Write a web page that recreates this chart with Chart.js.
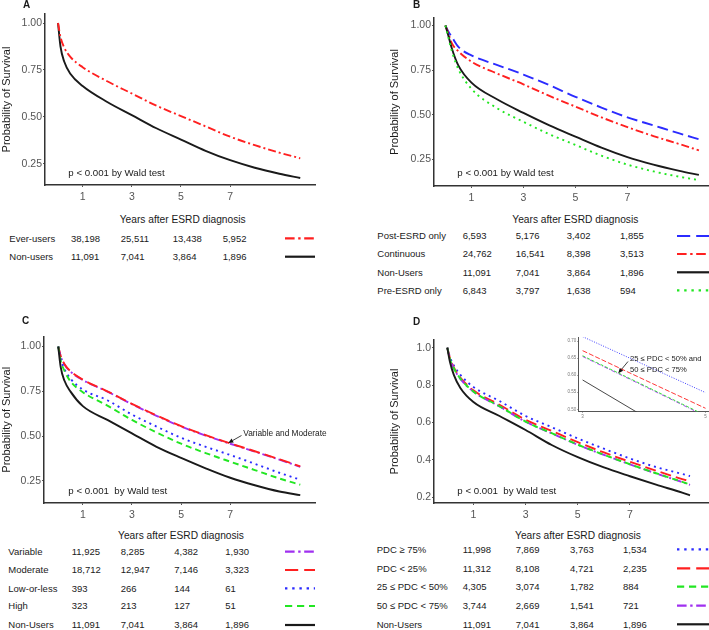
<!DOCTYPE html>
<html>
<head>
<meta charset="utf-8">
<script src="https://cdn.jsdelivr.net/npm/chart.js@4.4.1/dist/chart.umd.min.js"></script>
<style>
body { margin: 0; background: #fff; }
#page { position: relative; width: 709px; height: 630px; overflow: hidden;
        font-family: "Liberation Sans", Arial, sans-serif; color: #1a1a1a; }
#page canvas { position: absolute; }
.t { position: absolute; white-space: pre; }
#overlay { position: absolute; left: 0; top: 0; }
</style>
</head>
<body>
<div id="page"></div>
<script>
// ---- data ----
const yTicks4 = [0.25, 0.5, 0.75, 1.0];
const yTicksD = [0.2, 0.4, 0.6, 0.8, 1.0];
const xTicks = [1, 3, 5, 7];

// Panel A
const yearsA = [0, 0.1, 0.25, 0.5, 1, 2, 3, 4, 5, 6, 7, 8, 9, 9.85];
const everUsersA = [1, 0.925, 0.87, 0.82, 0.765, 0.69, 0.625, 0.56, 0.505, 0.45, 0.395, 0.35, 0.31, 0.28];
const nonUsersA = [1, 0.875, 0.795, 0.73, 0.665, 0.58, 0.51, 0.44, 0.38, 0.32, 0.27, 0.23, 0.198, 0.175];

// Panel B
const yearsB = [0, 0.1, 0.25, 0.5, 1, 2, 3, 4, 5, 6, 7, 8, 9, 9.75];
const postEsrdB = [1, 0.97, 0.935, 0.88, 0.832, 0.778, 0.725, 0.665, 0.60, 0.54, 0.485, 0.44, 0.395, 0.362];
const continuousB = [1, 0.96, 0.90, 0.855, 0.797, 0.73, 0.67, 0.605, 0.545, 0.485, 0.43, 0.38, 0.335, 0.30];
const nonUsersB = [1, 0.95, 0.87, 0.775, 0.68, 0.585, 0.51, 0.44, 0.377, 0.315, 0.262, 0.22, 0.185, 0.162];
const preEsrdB = [1, 0.94, 0.855, 0.755, 0.645, 0.535, 0.46, 0.39, 0.33, 0.27, 0.22, 0.182, 0.152, 0.133];

// Panel C
const yearsC = [0, 0.1, 0.25, 0.5, 1, 2, 3, 4, 5, 6, 7, 8, 9, 9.85];
const variableC = [1, 0.945, 0.9, 0.86, 0.813, 0.748, 0.678, 0.613, 0.553, 0.503, 0.457, 0.413, 0.368, 0.328];
const moderateC = [1, 0.947, 0.902, 0.862, 0.815, 0.75, 0.68, 0.615, 0.555, 0.505, 0.459, 0.415, 0.37, 0.331];
const lowOrLessC = [1, 0.93, 0.875, 0.82, 0.76, 0.70, 0.62, 0.553, 0.49, 0.44, 0.394, 0.345, 0.295, 0.256];
const highC = [1, 0.92, 0.865, 0.805, 0.745, 0.67, 0.59, 0.52, 0.457, 0.405, 0.357, 0.31, 0.263, 0.228];
const nonUsersC = [1, 0.885, 0.81, 0.748, 0.667, 0.59, 0.515, 0.44, 0.378, 0.32, 0.267, 0.225, 0.19, 0.17];

// Panel D
const yearsD = [0, 0.1, 0.25, 0.5, 1, 2, 3, 4, 5, 6, 7, 8, 9, 9.3];
const pdc75D = [1, 0.95, 0.905, 0.855, 0.79, 0.715, 0.635, 0.575, 0.515, 0.46, 0.408, 0.362, 0.325, 0.314];
const pdc25D = [1, 0.945, 0.895, 0.84, 0.772, 0.695, 0.615, 0.555, 0.495, 0.44, 0.39, 0.343, 0.298, 0.286];
const pdc2550D = [1, 0.94, 0.89, 0.835, 0.766, 0.687, 0.605, 0.543, 0.482, 0.428, 0.377, 0.329, 0.283, 0.269];
const pdc5075D = [1, 0.94, 0.888, 0.833, 0.765, 0.686, 0.604, 0.542, 0.481, 0.427, 0.376, 0.328, 0.282, 0.267];
const nonUsersD = [1, 0.925, 0.855, 0.785, 0.71, 0.635, 0.56, 0.48, 0.415, 0.36, 0.313, 0.268, 0.225, 0.211];

// Inset of panel D (years 3 to 5)
const insetYears = [3, 4, 5];
const insetTicksY = [0.50, 0.55, 0.60, 0.65, 0.70];
const insetTicksX = [3, 5];
const insetPdc75 = [0.713, 0.631, 0.549];
const insetPdc25 = [0.672, 0.587, 0.503];
const insetPdc2550 = [0.657, 0.570, 0.482];
const insetPdc5075 = [0.655, 0.568, 0.480];
const insetNonUsers = [0.586, 0.479, null];

// Numbers at risk
const groupsA = ['Ever-users', 'Non-users'];
const atRiskA = [[38198, 25511, 13438, 5952], [11091, 7041, 3864, 1896]];
const groupsB = ['Post-ESRD only', 'Continuous', 'Non-Users', 'Pre-ESRD only'];
const atRiskB = [[6593, 5176, 3402, 1855], [24762, 16541, 8398, 3513], [11091, 7041, 3864, 1896], [6843, 3797, 1638, 594]];
const groupsC = ['Variable', 'Moderate', 'Low-or-less', 'High', 'Non-Users'];
const atRiskC = [[11925, 8285, 4382, 1930], [18712, 12947, 7146, 3323], [393, 266, 144, 61], [323, 213, 127, 51], [11091, 7041, 3864, 1896]];
const groupsD = ['PDC \u2265 75%', 'PDC < 25%', '25 \u2264 PDC < 50%', '50 \u2264 PDC < 75%', 'Non-Users'];
const atRiskD = [[11998, 7869, 3763, 1534], [11312, 8108, 4721, 2235], [4305, 3074, 1782, 884], [3744, 2669, 1541, 721], [11091, 7041, 3864, 1896]];

// ---- styles ----
const FONT = '"Liberation Sans", Arial, sans-serif';
const RED = '#ff2020', BLUE = '#2b2bff', GREEN = '#22e622', PURPLE = '#a030f0', BLACK = '#1a1a1a';
const DASHDOT = [8, 3, 2, 3];
const LONGDASH = [11, 5];
const DOTTED = [2, 4];
const DASHED = [6, 4];
const SOLID = [];

const page = document.getElementById('page');
const svgNS = 'http://www.w3.org/2000/svg';
const overlay = document.createElementNS(svgNS, 'svg');
overlay.setAttribute('id', 'overlay');
overlay.setAttribute('width', 709);
overlay.setAttribute('height', 630);

function addCanvas(left, top, w, h) {
    const c = document.createElement('canvas');
    c.width = w; c.height = h;
    c.style.left = left + 'px'; c.style.top = top + 'px';
    c.style.width = w + 'px'; c.style.height = h + 'px';
    page.appendChild(c);
    return c;
}

function addText(txt, x, yc, size, opts = {}) {
    const d = document.createElement('div');
    d.className = 't';
    d.textContent = txt;
    d.style.fontSize = size + 'px';
    d.style.lineHeight = (size * 1.2) + 'px';
    d.style.top = (yc - size * 0.6) + 'px';
    d.style.left = x + 'px';
    if (opts.center) d.style.transform = 'translateX(-50%)';
    if (opts.bold) d.style.fontWeight = 'bold';
    page.appendChild(d);
}

function toPoints(xs, ys) {
    return xs.map((x, i) => ({ x: x, y: ys[i] })).filter(p => p.y !== null);
}

function survivalChart(box, years, series) {
    const canvas = addCanvas(box.left, box.top, box.w, box.h);
    return new Chart(canvas.getContext('2d'), {
        type: 'line',
        data: {
            datasets: series.map(s => ({
                data: toPoints(years, s.values),
                borderColor: s.color,
                borderDash: s.dash,
                borderWidth: box.lineWidth || 1.9,
                pointRadius: 0,
                fill: false,
                cubicInterpolationMode: 'monotone'
            }))
        },
        options: {
            responsive: false,
            animation: false,
            layout: { padding: { top: box.padTop, right: box.padRight, left: 0, bottom: 0 } },
            plugins: { legend: { display: false }, tooltip: { enabled: false } },
            scales: {
                x: {
                    type: 'linear',
                    min: box.xMin, max: box.xMax,
                    afterFit: s => { s.height = box.xH; },
                    afterBuildTicks: s => { s.ticks = box.xTicks.map(v => ({ value: v })); },
                    grid: { display: true, drawOnChartArea: false, tickLength: box.tickLen, color: box.tickColor },
                    border: { display: true, color: box.axisColor, width: box.axisWidth },
                    ticks: { color: box.tickFontColor, font: { family: FONT, size: box.tickFont }, padding: box.xPad, maxRotation: 0,
                             callback: v => String(v) }
                },
                y: {
                    type: 'linear',
                    min: box.yMin, max: box.yMax,
                    afterFit: s => { s.width = box.yW; },
                    afterBuildTicks: s => { s.ticks = box.yTicks.map(v => ({ value: v })); },
                    grid: { display: true, drawOnChartArea: false, tickLength: box.tickLen, color: box.tickColor },
                    border: { display: true, color: box.axisColor, width: box.axisWidth },
                    ticks: { color: box.tickFontColor, font: { family: FONT, size: box.tickFont }, padding: 1,
                             callback: v => v.toFixed(box.yDigits) },
                    title: { display: !!box.yTitle, text: box.yTitle, color: '#1a1a1a',
                             font: { family: FONT, size: 11 }, padding: 0 }
                }
            }
        }
    });
}

function legendLine(x0, x1, y, color, dash) {
    const l = document.createElementNS(svgNS, 'line');
    l.setAttribute('x1', x0); l.setAttribute('x2', x1);
    l.setAttribute('y1', y); l.setAttribute('y2', y);
    l.setAttribute('stroke', color);
    l.setAttribute('stroke-width', 2.2);
    if (dash.length) l.setAttribute('stroke-dasharray', dash.map(d => d * 1.2).join(','));
    overlay.appendChild(l);
}

function riskTable(t, groups, counts, styles) {
    addText('Years after ESRD diagnosis', t.titleX, t.titleY, 10.2, { center: true });
    groups.forEach((g, i) => {
        const y = t.rowY[i];
        addText(g, t.labelX, y, 9.5);
        counts[i].forEach((n, j) => addText(n.toLocaleString('en-US'), t.colX[j], y, 9.5));
        legendLine(t.lineX[0], t.lineX[1], y, styles[i].color, styles[i].dash);
    });
}

function arrow(x0, y0, x1, y1) {
    const l = document.createElementNS(svgNS, 'line');
    const dx = x1 - x0, dy = y1 - y0, len = Math.hypot(dx, dy);
    const ux = dx / len, uy = dy / len;
    const bx = x1 - ux * 5, by = y1 - uy * 5;
    l.setAttribute('x1', x0); l.setAttribute('y1', y0);
    l.setAttribute('x2', bx); l.setAttribute('y2', by);
    l.setAttribute('stroke', '#111'); l.setAttribute('stroke-width', 0.8);
    overlay.appendChild(l);
    const p = document.createElementNS(svgNS, 'polygon');
    p.setAttribute('points', [x1, y1, bx + uy * 2.2, by - ux * 2.2, bx - uy * 2.2, by + ux * 2.2].join(','));
    p.setAttribute('fill', '#111');
    overlay.appendChild(p);
}

const mainBox = {
    xTicks: xTicks, tickLen: 2, tickColor: '#555', axisColor: '#333', axisWidth: 1.5,
    tickFontColor: '#555', tickFont: 10.5, xPad: 4, xH: 20, yDigits: 2, yTitle: 'Probability of Survival'
};

// ---- Panel A ----
survivalChart(Object.assign({}, mainBox, {
    left: 0, top: 0, w: 330, h: 205, padTop: 14, padRight: 15, yW: 45,
    xMin: -0.53, xMax: 10.45, yMin: 0.138, yMax: 1.048, yTicks: yTicks4
}), yearsA, [
    { values: everUsersA, color: RED, dash: DASHDOT },
    { values: nonUsersA, color: BLACK, dash: SOLID }
]);
riskTable({ titleX: 182.7, titleY: 220, labelX: 9.3, colX: [71, 120.7, 172.7, 222.7], rowY: [238.3, 256.7], lineX: [285, 315] },
    groupsA, atRiskA, [{ color: RED, dash: DASHDOT }, { color: BLACK, dash: SOLID }]);

// ---- Panel B ----
survivalChart(Object.assign({}, mainBox, {
    left: 388, top: 0, w: 321, h: 206, padTop: 18, padRight: 1, yW: 46,
    xMin: -0.44, xMax: 10.1, yMin: 0.10, yMax: 1.042, yTicks: yTicks4
}), yearsB, [
    { values: preEsrdB, color: GREEN, dash: DOTTED },
    { values: nonUsersB, color: BLACK, dash: SOLID },
    { values: continuousB, color: RED, dash: DASHDOT },
    { values: postEsrdB, color: BLUE, dash: LONGDASH }
]);
riskTable({ titleX: 575.3, titleY: 220, labelX: 377.3, colX: [462.7, 515.7, 566.7, 620], rowY: [236, 254, 272.3, 290.3], lineX: [677, 709] },
    groupsB, atRiskB, [
        { color: BLUE, dash: LONGDASH }, { color: RED, dash: DASHDOT },
        { color: BLACK, dash: SOLID }, { color: GREEN, dash: DOTTED }]);

// ---- Panel C ----
survivalChart(Object.assign({}, mainBox, {
    left: 0, top: 316, w: 330, h: 207, padTop: 20.5, padRight: 15, yW: 44,
    xMin: -0.58, xMax: 10.45, yMin: 0.126, yMax: 1.056, yTicks: yTicks4
}), yearsC, [
    { values: nonUsersC, color: BLACK, dash: SOLID },
    { values: highC, color: GREEN, dash: DASHED },
    { values: lowOrLessC, color: BLUE, dash: DOTTED },
    { values: moderateC, color: RED, dash: LONGDASH },
    { values: variableC, color: PURPLE, dash: [9, 3, 2, 3] }
]);
riskTable({ titleX: 181, titleY: 536, labelX: 8.3, colX: [71.7, 120.7, 174.3, 225.3], rowY: [551.7, 570, 588.3, 606, 625], lineX: [285, 315] },
    groupsC, atRiskC, [
        { color: PURPLE, dash: DASHDOT }, { color: RED, dash: LONGDASH },
        { color: BLUE, dash: DOTTED }, { color: GREEN, dash: DASHED }, { color: BLACK, dash: SOLID }]);

// ---- Panel D ----
survivalChart(Object.assign({}, mainBox, {
    left: 388, top: 316, w: 321, h: 207, padTop: 24, padRight: 1, yW: 46,
    xMin: -0.51, xMax: 9.99, yMin: 0.17, yMax: 1.041, yTicks: yTicksD, yDigits: 1
}), yearsD, [
    { values: nonUsersD, color: BLACK, dash: SOLID },
    { values: pdc2550D, color: GREEN, dash: DASHED },
    { values: pdc5075D, color: PURPLE, dash: DASHDOT },
    { values: pdc25D, color: RED, dash: LONGDASH },
    { values: pdc75D, color: BLUE, dash: DOTTED }
]);
riskTable({ titleX: 578, titleY: 536, labelX: 376.7, colX: [462.7, 515.7, 570, 623], rowY: [549.3, 568.3, 586.7, 605.7, 624.3], lineX: [677, 709] },
    groupsD, atRiskD, [
        { color: BLUE, dash: DOTTED }, { color: RED, dash: LONGDASH },
        { color: GREEN, dash: DASHED }, { color: PURPLE, dash: DASHDOT }, { color: BLACK, dash: SOLID }]);

// ---- Inset of D ----
survivalChart({
    left: 560, top: 330, w: 149, h: 95, padTop: 7, padRight: 1, yW: 18.3, xH: 13.3,
    xMin: 2.93, xMax: 5.04, yMin: 0.493, yMax: 0.712, xTicks: insetTicksX, yTicks: insetTicksY,
    tickLen: 1, tickColor: '#888', axisColor: '#555', axisWidth: 1, tickFontColor: '#777', tickFont: 4.5,
    xPad: 1, yDigits: 2, yTitle: '', lineWidth: 0.9
}, insetYears, [
    { values: insetNonUsers, color: '#333', dash: SOLID },
    { values: insetPdc2550, color: GREEN, dash: [3, 2] },
    { values: insetPdc5075, color: PURPLE, dash: [4, 1.5, 1, 1.5] },
    { values: insetPdc25, color: RED, dash: [5, 2] },
    { values: insetPdc75, color: BLUE, dash: [1, 1.5] }
]);

// ---- panel letters, p-values and notes ----
addText('A', 23, 5, 10, { bold: true });
addText('B', 413, 5, 10, { bold: true });
addText('C', 22, 321, 10, { bold: true });
addText('D', 413, 322, 10, { bold: true });
addText('p < 0.001 by Wald test', 68.3, 172.7, 9.7);
addText('p < 0.001 by Wald test', 457.3, 172.7, 9.7);
addText('p < 0.001  by Wald test', 68.3, 491, 9.7);
addText('p < 0.001  by Wald test', 457.3, 490.7, 9.7);
addText('Variable and Moderate', 243.3, 434.3, 8.3);
addText('25 \u2264 PDC < 50% and', 630, 359, 7.6);
addText('50 \u2264 PDC < 75%', 630, 369.3, 7.6);
arrow(241.5, 435.5, 228.3, 443);
arrow(628, 361.5, 618.3, 373.3);

page.appendChild(overlay);
</script>
</body>
</html>
